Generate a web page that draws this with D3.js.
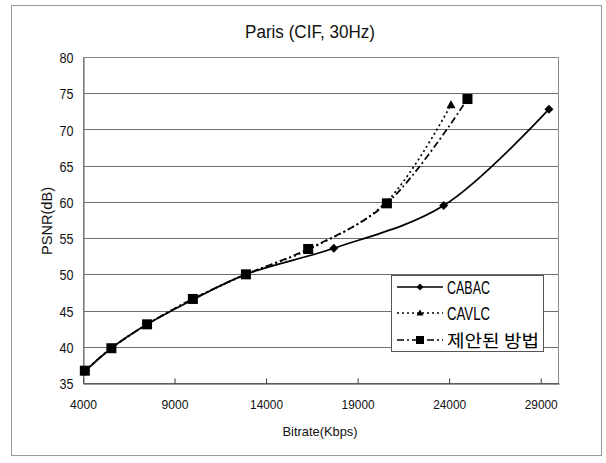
<!DOCTYPE html>
<html><head><meta charset="utf-8">
<script src="https://cdn.jsdelivr.net/npm/d3@7"></script>
<style>
html,body{margin:0;padding:0;background:#fff;}
svg{display:block;font-family:"Liberation Sans",Arial,sans-serif;}
</style></head>
<body><svg id="c" width="606" height="463"></svg>
<script>
const title = "Paris (CIF, 30Hz)";
const xTitle = "Bitrate(Kbps)";
const yTitle = "PSNR(dB)";
const seriesNames = ["CABAC", "CAVLC", "제안된 방법"];
const xTicks = [4000, 9000, 14000, 19000, 24000, 29000];
const yTicks = [35, 40, 45, 50, 55, 60, 65, 70, 75, 80];
const cabacX = [4100, 5550, 7500, 10000, 12900, 17700, 23700, 29450];
const cabacY = [36.6, 39.8, 43.1, 46.5, 50.0, 53.6, 59.5, 72.8];
const cavlcX = [4100, 5550, 7500, 10000, 12900, 16300, 20500, 24100];
const cavlcY = [36.7, 39.8, 43.1, 46.6, 50.0, 53.4, 59.8, 73.4];
const propX = [4100, 5550, 7500, 10000, 12900, 16300, 20600, 25000];
const propY = [36.7, 39.8, 43.1, 46.6, 50.0, 53.5, 59.8, 74.2];

const svg = d3.select("#c");
const L = 83, R = 559, T = 57, B = 383;
const x = d3.scaleLinear().domain([4000, 30000]).range([L, R]);
const y = d3.scaleLinear().domain([35, 80]).range([B, T]);

// outer frame
svg.append("rect").attr("x", 11.5).attr("y", 5.5).attr("width", 590).attr("height", 450)
  .attr("fill", "#fff").attr("stroke", "#9a9a9a").attr("stroke-width", 1);

// title
svg.append("text").attr("x", 310).attr("y", 38).attr("text-anchor", "middle")
  .attr("font-size", 18).attr("textLength", 130).attr("lengthAdjust", "spacingAndGlyphs")
  .attr("fill", "#111").text(title);

// gridlines
const g = svg.append("g");
g.selectAll("line.grid").data(yTicks.filter(v => v > 35)).join("line")
  .attr("class", "grid")
  .attr("x1", L).attr("x2", R)
  .attr("y1", d => Math.round(y(d)) + 0.5).attr("y2", d => Math.round(y(d)) + 0.5)
  .attr("stroke", "#6e6e6e").attr("stroke-width", 1);

// plot border
svg.append("rect").attr("x", L + 0.5).attr("y", T + 0.5).attr("width", R - L - 1).attr("height", B - T)
  .attr("fill", "none").attr("stroke", "#8a8a8a").attr("stroke-width", 1);

// x axis
const xa = svg.append("g").attr("transform", `translate(0,${B + 0.5})`)
  .call(d3.axisBottom(x).tickValues(xTicks).tickFormat(d3.format("d")).tickSizeInner(-5).tickSizeOuter(0).tickPadding(16));
xa.select(".domain").attr("stroke", "#333");
xa.selectAll(".tick line").attr("stroke", "#333");
xa.selectAll(".tick text").attr("font-size", 13.5).attr("fill", "#111")
  .attr("font-family", "Liberation Sans, Arial, sans-serif")
  .attr("textLength", 27).attr("lengthAdjust", "spacingAndGlyphs");
xa.selectAll(".tick text").filter(d => d >= 10000).attr("textLength", 33);

// y axis
const ya = svg.append("g").attr("transform", `translate(${L + 0.5},0)`)
  .call(d3.axisLeft(y).tickValues(yTicks).tickSize(0).tickPadding(10));
ya.select(".domain").attr("stroke", "#666");
ya.selectAll(".tick text").attr("font-size", 14).attr("fill", "#111")
  .attr("font-family", "Liberation Sans, Arial, sans-serif").attr("dy", "0.4em")
  .attr("textLength", 14).attr("lengthAdjust", "spacingAndGlyphs");

// axis titles
svg.append("text").attr("x", 320).attr("y", 436).attr("text-anchor", "middle")
  .attr("font-size", 13.5).attr("fill", "#111").attr("textLength", 75).attr("lengthAdjust", "spacingAndGlyphs").text(xTitle);
svg.append("text").attr("transform", "translate(52,221) rotate(-90)").attr("text-anchor", "middle")
  .attr("font-size", 14.5).attr("fill", "#111").attr("textLength", 68).attr("lengthAdjust", "spacingAndGlyphs").text(yTitle);

const curve = d3.curveCatmullRom.alpha(0.5);
const line = d3.line().x(d => x(d[0])).y(d => y(d[1])).curve(curve);
const zip = (a, b) => a.map((v, i) => [v, b[i]]);
const styles = [
  { data: zip(cabacX, cabacY), dash: null, marker: "diamond", size: 9 },
  { data: zip(cavlcX, cavlcY), dash: "2,3", marker: "triangle", size: 9 },
  { data: zip(propX, propY), dash: "7,3,2,3", marker: "square", size: 10 }
];
function drawMarker(sel, type, s) {
  if (type === "diamond") sel.append("path").attr("d", `M0,${-s/2}L${s/2},0L0,${s/2}L${-s/2},0Z`);
  else if (type === "triangle") sel.append("path").attr("d", `M0,${-s/2}L${s/2},${s/2 - 1}L${-s/2},${s/2 - 1}Z`);
  else sel.append("rect").attr("x", -s/2).attr("y", -s/2).attr("width", s).attr("height", s);
}
const plot = svg.append("g");
styles.forEach(st => {
  plot.append("path").attr("d", line(st.data)).attr("fill", "none").attr("stroke", "#000")
    .attr("stroke-width", 1.7).attr("stroke-dasharray", st.dash);
  st.data.forEach(p => {
    const m = plot.append("g").attr("transform", `translate(${x(p[0])},${y(p[1])})`).attr("fill", "#000");
    drawMarker(m, st.marker, st.size);
  });
});

// legend
const lg = svg.append("g");
lg.append("rect").attr("x", 391.5).attr("y", 275.5).attr("width", 152).attr("height", 76)
  .attr("fill", "#fff").attr("stroke", "#555").attr("stroke-width", 1);
const rowsY = [287, 313, 340];
const textLens = [43, 43, 92];
styles.forEach((st, i) => {
  const yy = rowsY[i];
  lg.append("line").attr("x1", 397).attr("x2", 443).attr("y1", yy).attr("y2", yy)
    .attr("stroke", "#000").attr("stroke-width", 1.7).attr("stroke-dasharray", st.dash);
  const m = lg.append("g").attr("transform", `translate(420,${yy})`).attr("fill", "#000");
  drawMarker(m, st.marker, st.size - 2);
  lg.append("text").attr("x", 447).attr("y", yy + (i === 2 ? 7 : 6.5)).attr("font-size", i === 2 ? 17.5 : 18).attr("fill", "#000")
    .attr("font-family", i === 2 ? "Noto Sans CJK KR, sans-serif" : "Liberation Sans, Arial, sans-serif")
    .attr("textLength", textLens[i]).attr("lengthAdjust", "spacingAndGlyphs").text(seriesNames[i]);
});
</script></body></html>
